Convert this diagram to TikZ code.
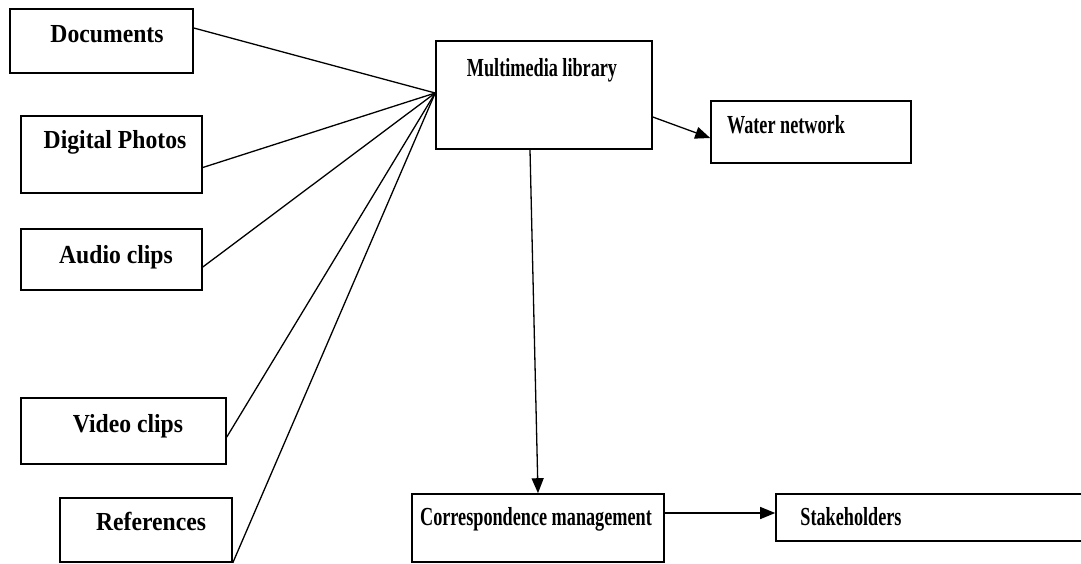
\documentclass[tikz,border=0pt]{standalone}
\usepackage{fontspec}
\setmainfont{Liberation Serif}[FakeStretch=0.91]
\newfontfamily\condfont{Liberation Serif}[FakeStretch=0.70]
\usetikzlibrary{arrows.meta}
\tikzset{
  box/.style={draw=black, line width=1.6pt, inner sep=0pt, fill=none},
  lbl/.style={anchor=base, inner sep=0pt, font=\fontsize{26}{30}\selectfont\bfseries},
  clbl/.style={anchor=base, inner sep=0pt, font=\fontsize{26}{30}\selectfont\condfont\bfseries},
  conn/.style={draw=black, line width=1.3pt},
  arr/.style={conn, -{Triangle[length=15pt,width=12pt]}}
}
\begin{document}
\begin{tikzpicture}[x=1pt,y=-1pt]
\useasboundingbox (0,0) rectangle (1081,563);
% boxes
\node[box, minimum width=183pt, minimum height=64pt] (doc) at (101.5,41) {};
\node[box, minimum width=181pt, minimum height=77pt] (pho) at (111.5,154.5) {};
\node[box, minimum width=181pt, minimum height=61pt] (aud) at (111.5,259.5) {};
\node[box, minimum width=205pt, minimum height=66pt] (vid) at (123.5,431) {};
\node[box, minimum width=172pt, minimum height=64pt] (ref) at (146,530) {};
\node[box, minimum width=216pt, minimum height=108pt] (mm) at (544,95) {};
\node[box, minimum width=200pt, minimum height=62pt] (wat) at (811,132) {};
\node[box, minimum width=252pt, minimum height=68pt] (cor) at (538,528) {};
\node[box, minimum width=319pt, minimum height=47pt] (stk) at (935.5,517.5) {};
% labels
\node[lbl] (tdoc) at (107,42) {Documents};
\node[lbl] (tpho) at (115,148) {Digital Photos};
\node[lbl] (taud) at (116,263) {Audio clips};
\node[lbl] (tvid) at (128,432) {Video clips};
\node[lbl] (tref) at (151,530) {References};
\node[clbl] (tmm) at (542,76) {Multimedia library};
\node[clbl] (twat) at (786,133) {Water network};
\node[clbl] (tcor) at (536,525) {Correspondence management};
\node[clbl] (tstk) at (851,525) {Stakeholders};
% hub
\coordinate (J) at ([yshift=2pt]mm.west);
% connectors
\draw[conn] ([yshift=13pt]doc.east) -- (J);
\draw[conn] ([yshift=-13pt]pho.east) -- (J);
\draw[conn] ([yshift=-7.5pt]aud.east) -- (J);
\draw[conn] ([yshift=-6pt]vid.east) -- (J);
\draw[conn] (ref.south east) -- (J);
\draw[arr] ([yshift=-22pt]mm.east) -- ([yshift=-6pt]wat.west);
\draw[arr] ([xshift=-14pt]mm.south) -- (cor.north);
\draw[arr] ([yshift=15pt]cor.east) -- ([yshift=15pt]cor.east -| stk.west);
\end{tikzpicture}
\end{document}
